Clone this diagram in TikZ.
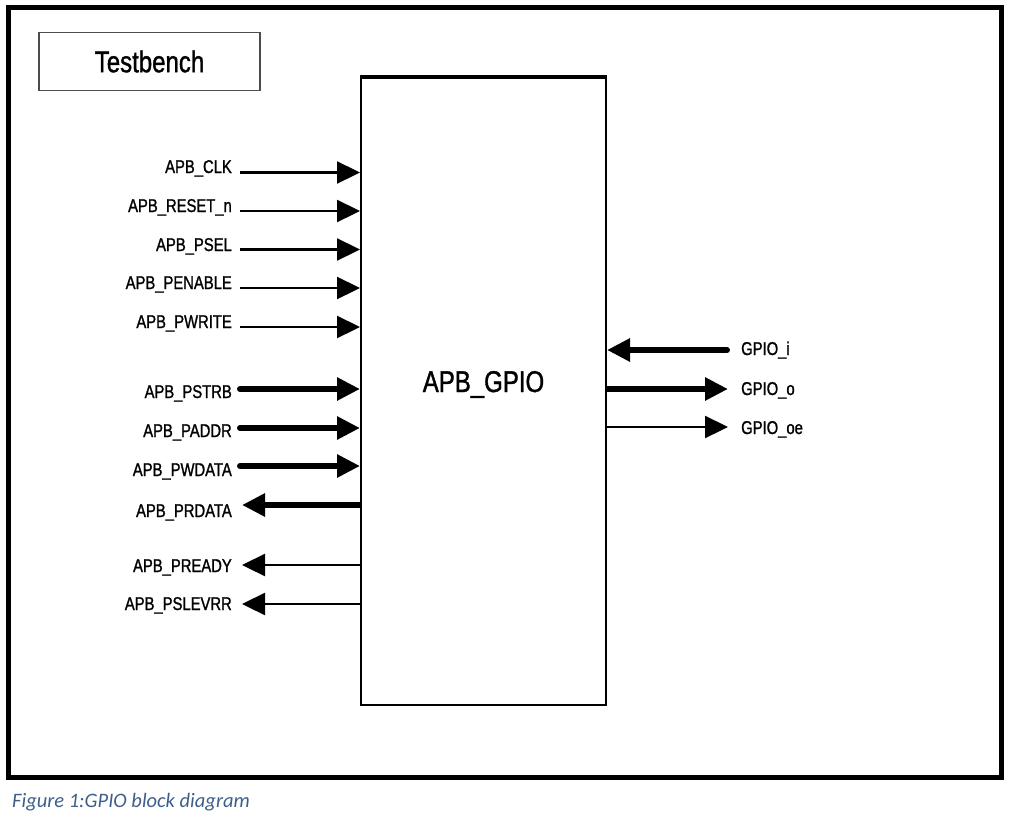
\documentclass[tikz,border=0pt]{standalone}
\usepackage{fontspec}
\setmainfont{Liberation Sans}
\newfontfamily\lblfont[FakeStretch=0.8,FakeBold=1.2]{Liberation Sans}
\newfontfamily\capfont{Carlito}
\usetikzlibrary{arrows.meta}
\definecolor{capblue}{HTML}{3F5F8A}
\begin{document}
\begin{tikzpicture}[x=1pt,y=-1pt,
  sig/.style={font=\lblfont\fontsize{18.5}{18.5}\selectfont, inner sep=0pt},
  thinw/.style={line width=2.3pt},
  thickw/.style={line width=6pt, line cap=round},
  head/.style={-{Triangle[length=23pt,width=22pt]}},
]
\useasboundingbox (0,0) rectangle (1013,817);
% outer frame
\node[draw, line width=5pt, minimum width=993pt, minimum height=769.5pt, inner sep=0pt] (frame) at (504.5,392.25) {};
% testbench box
\node[draw=black!70, line width=1.2pt, minimum width=221pt, minimum height=58pt, inner sep=0pt,
  font=\lblfont\fontsize{30}{30}\selectfont] (tb) at (149.5,61.5) {Testbench};
% main block
\node[draw, line width=2pt, minimum width=245pt, minimum height=627pt, inner sep=0pt] (gpio) at (483.5,391) {};
\draw[line width=3.5pt] (gpio.north west) -- (gpio.north east);
\node[font=\lblfont\fontsize{30}{30}\selectfont, inner sep=0pt, anchor=base] (title) at (483.5,392) {APB\_GPIO};
% left inputs
\foreach \nm/\txt/\ly/\by/\st in {clk/APB\_CLK/172.5/173/thinw,
  rst/APB\_RESET\_n/211/212/thinw,
  psel/APB\_PSEL/249.5/251/thinw,
  pen/APB\_PENABLE/288/289/thinw,
  pwr/APB\_PWRITE/327/328/thinw,
  pstrb/APB\_PSTRB/389/398/thickw,
  paddr/APB\_PADDR/428/437/thickw,
  pwd/APB\_PWDATA/466/476/thickw}{
  \node[sig, anchor=base east] (l\nm) at (232,\by) {\txt};
  \coordinate (s\nm) at (240,\ly);
  \draw[\st, head] (s\nm) -- (s\nm -| gpio.west);
}
% left outputs
\foreach \nm/\txt/\ly/\by/\st in {prd/APB\_PRDATA/505/517/thickw,
  prdy/APB\_PREADY/565/572/thinw,
  pslv/APB\_PSLEVRR/604/610/thinw}{
  \node[sig, anchor=base east] (l\nm) at (232,\by) {\txt};
  \coordinate (s\nm) at (242,\ly);
  \draw[\st, line cap=butt, head] (s\nm -| gpio.west) -- (s\nm);
}
% right side
\node[sig, anchor=base west] (lgi) at (741,355) {GPIO\_i};
\node[sig, anchor=base west] (lgo) at (741,395) {GPIO\_o};
\node[sig, anchor=base west] (lgoe) at (741,434) {GPIO\_oe};
\coordinate (sgi) at (727,350);
\coordinate (sgo) at (728,389);
\coordinate (sgoe) at (728,427);
\draw[thickw, head] (sgi) -- (sgi -| gpio.east);
\draw[thickw, line cap=butt, head] (sgo -| gpio.east) -- (sgo);
\draw[thinw, head] (sgoe -| gpio.east) -- (sgoe);
% caption
\node[font=\capfont\itshape\fontsize{20.5}{20.5}\selectfont, text=capblue, inner sep=0pt, anchor=base west] (cap) at (12,807) {Figure 1:GPIO block diagram};
\end{tikzpicture}
\end{document}
